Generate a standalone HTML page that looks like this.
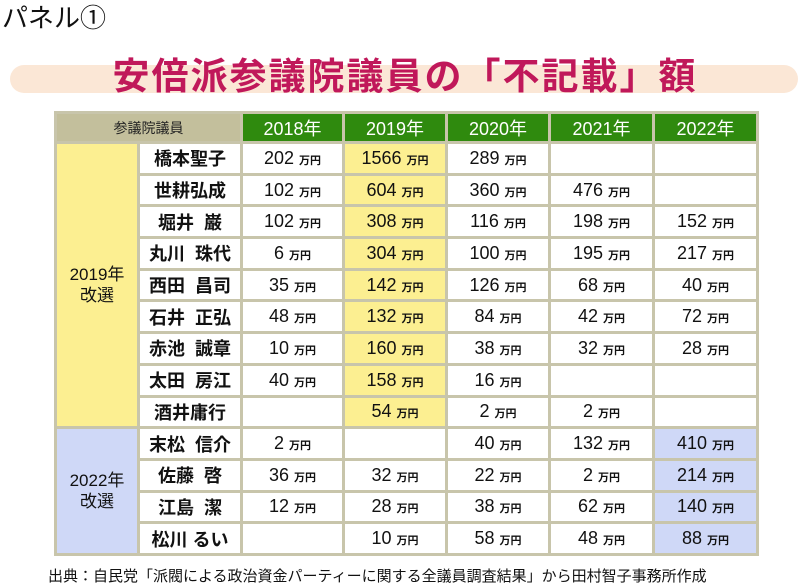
<!DOCTYPE html>
<html><head><meta charset="utf-8"><style>
body{margin:0;width:800px;height:582px;background:#fff;position:relative;overflow:hidden;font-family:"Liberation Sans","Noto Sans CJK JP",sans-serif;}
.pn{position:absolute;left:2px;top:-2px;font-size:26px;color:#111;}
.band{position:absolute;left:10px;top:65px;width:788px;height:28px;background:#fbe7d6;border-radius:14px;}
.title{position:absolute;left:108px;top:46px;width:594px;text-align:center;font-size:37px;font-weight:bold;color:#c0185a;letter-spacing:2px;white-space:nowrap;}
table{position:absolute;left:54px;top:111px;border-collapse:collapse;table-layout:fixed;border:3px solid #c4c1a6;}
td{border:3px solid #c8c5ab;height:28.7px;padding:0;text-align:center;font-size:18px;color:#111;white-space:nowrap;}
tr.h td{height:27px;background:#2f8a0e;color:#fff;font-size:18px;}
tr.h td.f{background:#c3bf9c;color:#222;font-size:14px;}
td.n{font-weight:bold;font-size:18px;}
td.y{background:#fcef91;}
td.b{background:#cfd8f7;}
td.g{font-size:17px;line-height:21px;}
small{font-size:11px;font-weight:bold;margin-left:5px;}
.src{position:absolute;left:48px;top:565px;font-size:15px;color:#111;white-space:nowrap;}
</style></head><body>
<div class="pn">パネル①</div>
<div class="band"></div>
<div class="title">安倍派参議院議員の「不記載」額</div>
<table>
<colgroup><col style="width:83px"><col style="width:103px"><col style="width:102px"><col style="width:103px"><col style="width:103px"><col style="width:104px"><col style="width:104px"></colgroup>
<tr class="h"><td class="f" colspan="2">参議院議員</td><td>2018年</td><td>2019年</td><td>2020年</td><td>2021年</td><td>2022年</td></tr>
<tr><td class="y g" rowspan="9">2019年<br>改選</td><td class="n">橋本聖子</td><td>202<small>万円</small></td><td class="y">1566<small>万円</small></td><td>289<small>万円</small></td><td></td><td></td></tr>
<tr><td class="n">世耕弘成</td><td>102<small>万円</small></td><td class="y">604<small>万円</small></td><td>360<small>万円</small></td><td>476<small>万円</small></td><td></td></tr>
<tr><td class="n">堀井&nbsp;&nbsp;巌</td><td>102<small>万円</small></td><td class="y">308<small>万円</small></td><td>116<small>万円</small></td><td>198<small>万円</small></td><td>152<small>万円</small></td></tr>
<tr><td class="n">丸川&nbsp;&nbsp;珠代</td><td>6<small>万円</small></td><td class="y">304<small>万円</small></td><td>100<small>万円</small></td><td>195<small>万円</small></td><td>217<small>万円</small></td></tr>
<tr><td class="n">西田&nbsp;&nbsp;昌司</td><td>35<small>万円</small></td><td class="y">142<small>万円</small></td><td>126<small>万円</small></td><td>68<small>万円</small></td><td>40<small>万円</small></td></tr>
<tr><td class="n">石井&nbsp;&nbsp;正弘</td><td>48<small>万円</small></td><td class="y">132<small>万円</small></td><td>84<small>万円</small></td><td>42<small>万円</small></td><td>72<small>万円</small></td></tr>
<tr><td class="n">赤池&nbsp;&nbsp;誠章</td><td>10<small>万円</small></td><td class="y">160<small>万円</small></td><td>38<small>万円</small></td><td>32<small>万円</small></td><td>28<small>万円</small></td></tr>
<tr><td class="n">太田&nbsp;&nbsp;房江</td><td>40<small>万円</small></td><td class="y">158<small>万円</small></td><td>16<small>万円</small></td><td></td><td></td></tr>
<tr><td class="n">酒井庸行</td><td></td><td class="y">54<small>万円</small></td><td>2<small>万円</small></td><td>2<small>万円</small></td><td></td></tr>
<tr><td class="b g" rowspan="4">2022年<br>改選</td><td class="n">末松&nbsp;&nbsp;信介</td><td>2<small>万円</small></td><td></td><td>40<small>万円</small></td><td>132<small>万円</small></td><td class="b">410<small>万円</small></td></tr>
<tr><td class="n">佐藤&nbsp;&nbsp;啓</td><td>36<small>万円</small></td><td>32<small>万円</small></td><td>22<small>万円</small></td><td>2<small>万円</small></td><td class="b">214<small>万円</small></td></tr>
<tr><td class="n">江島&nbsp;&nbsp;潔</td><td>12<small>万円</small></td><td>28<small>万円</small></td><td>38<small>万円</small></td><td>62<small>万円</small></td><td class="b">140<small>万円</small></td></tr>
<tr><td class="n">松川&nbsp;るい</td><td></td><td>10<small>万円</small></td><td>58<small>万円</small></td><td>48<small>万円</small></td><td class="b">88<small>万円</small></td></tr>
</table>
<div class="src">出典：自民党「派閥による政治資金パーティーに関する全議員調査結果」から田村智子事務所作成</div>
</body></html>
